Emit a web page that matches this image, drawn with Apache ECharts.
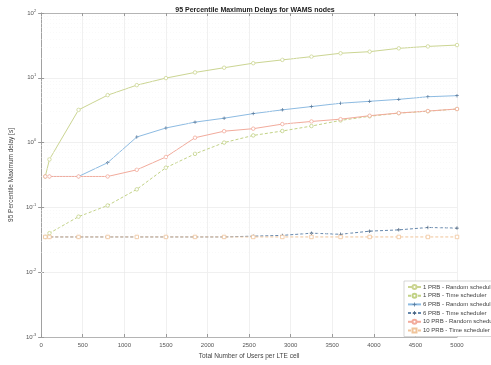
<!DOCTYPE html>
<html>
<head>
<meta charset="utf-8">
<script src="https://cdn.jsdelivr.net/npm/echarts@6/dist/echarts.min.js"></script>
<style>
  html, body { margin: 0; padding: 0; background: #fff; }
  #chart { width: 491px; height: 365px; }
</style>
</head>
<body>
<div id="chart"></div>
<script>
// users per LTE cell (x positions of the markers)
var users = [50, 100, 450, 800, 1150, 1500, 1850, 2200, 2550, 2900, 3250, 3600, 3950, 4300, 4650, 5000];

// 95 percentile max delay [s]
var prb1Random = [0.3, 0.55, 3.2, 5.4, 7.7, 9.9, 12.1, 14.3, 16.8, 18.9, 21.2, 23.9, 25.3, 28.5, 30.5, 32];
var prb1Time = [0.035, 0.04, 0.072, 0.107, 0.19, 0.41, 0.67, 1.0, 1.29, 1.51, 1.8, 2.2, 2.55, 2.85, 3.05, 3.3];
var prb6Random = [0.3, 0.3, 0.3, 0.49, 1.22, 1.68, 2.07, 2.38, 2.8, 3.2, 3.6, 4.05, 4.34, 4.65, 5.1, 5.3];
var prb6Time = [0.035, 0.035, 0.035, 0.035, 0.035, 0.035, 0.035, 0.035, 0.036, 0.037, 0.04, 0.0385, 0.043, 0.045, 0.049, 0.048];
var prb10Random = [0.3, 0.3, 0.3, 0.3, 0.38, 0.6, 1.19, 1.5, 1.64, 1.93, 2.12, 2.3, 2.6, 2.86, 3.07, 3.3];
var prb10Time = [0.035, 0.035, 0.035, 0.035, 0.035, 0.035, 0.035, 0.035, 0.035, 0.035, 0.035, 0.035, 0.035, 0.035, 0.035, 0.035];

var xTicks = [0, 500, 1000, 1500, 2000, 2500, 3000, 3500, 4000, 4500, 5000];
var decades = [-3, -2, -1, 0, 1, 2];

var plus = 'path://M4,0h2v4h4v2h-4v4h-2v-4h-4v-2h4z';

function pairs(vals) {
  return users.map(function (u, i) { return [u, vals[i]]; });
}

// minor log gridlines 2..9 x 10^k
var minorLines = [];
decades.slice(0, -1).forEach(function (e) {
  for (var m = 2; m <= 9; m++) minorLines.push({ yAxis: m * Math.pow(10, e) });
});

function line(name, vals, color, dashed, symbol) {
  return {
    name: name,
    type: 'line',
    data: pairs(vals),
    symbol: symbol,
    symbolSize: 3.5,
    showSymbol: true,
    lineStyle: { color: color, width: 1, type: dashed ? [3, 2] : 'solid' },
    itemStyle: { color: '#fff', borderColor: color, borderWidth: 0.8 },
    emphasis: { disabled: true },
    animation: false
  };
}

var chart = echarts.init(document.getElementById('chart'), null, { renderer: 'canvas' });

var series = [
  line('1 PRB - Random scheduler', prb1Random, '#cbd592', false, 'circle'),
  line('1 PRB - Time scheduler', prb1Time, '#c2d286', true, 'circle'),
  line('6 PRB - Random scheduler', prb6Random, '#8dbbe2', false, plus),
  line('6 PRB - Time scheduler', prb6Time, '#6688ad', true, plus),
  line('10 PRB - Random scheduler', prb10Random, '#f2ab9c', false, 'circle'),
  line('10 PRB - Time scheduler', prb10Time, '#f0c49a', true, 'rect')
];
series[2].itemStyle = { color: '#56789a' };
series[3].itemStyle = { color: '#475f7a' };

// dummy series carrying the minor grid
series.push({
  type: 'line',
  data: [],
  silent: true,
  markLine: {
    silent: true,
    symbol: 'none',
    label: { show: false },
    lineStyle: { color: '#f0f0f0', width: 0.5, type: [1, 2] },
    data: minorLines,
    animation: false
  }
});

chart.setOption({
  backgroundColor: '#fff',
  textStyle: { fontFamily: 'Liberation Sans' },
  title: {
    text: '95 Percentile Maximum Delays for WAMS nodes',
    left: 250,
    textAlign: 'center',
    top: 2,
    textStyle: { fontSize: 7, fontWeight: 'bold', color: '#222' }
  },
  grid: { left: 41, right: 34, top: 13, bottom: 25, containLabel: false },
  legend: {
    orient: 'vertical',
    left: 404,
    top: 281,
    itemWidth: 13,
    itemHeight: 5,
    itemGap: 2.7,
    padding: [3, 4, 3, 3],
    backgroundColor: '#fff',
    borderColor: '#bdbdbd',
    borderWidth: 0.6,
    textStyle: { fontSize: 6, color: '#444', padding: [0, 0, 0, -3] },
    data: series.slice(0, 6).map(function (s) { return s.name; })
  },
  xAxis: [{
    type: 'value',
    min: 0,
    max: 5000,
    interval: 500,
    name: 'Total Number of Users per LTE cell',
    nameLocation: 'middle',
    nameGap: 16,
    nameTextStyle: { fontSize: 6.5, color: '#444' },
    axisLine: { lineStyle: { color: '#9a9a9a', width: 0.7 } },
    axisTick: { inside: true, length: 3, lineStyle: { color: '#9a9a9a' } },
    axisLabel: { fontSize: 6, color: '#555', margin: 5,
      formatter: function (v) { return xTicks.indexOf(v) >= 0 ? String(v) : ''; } },
    splitLine: { show: true, lineStyle: { color: '#e6e6e6', width: 0.6 } }
  }, {
    type: 'value',
    position: 'top',
    min: 0,
    max: 5000,
    interval: 500,
    axisLine: { lineStyle: { color: '#9a9a9a', width: 0.7 } },
    axisTick: { inside: true, length: 3, lineStyle: { color: '#9a9a9a' } },
    axisLabel: { show: false },
    splitLine: { show: false }
  }],
  yAxis: [{
    type: 'log',
    logBase: 10,
    min: 0.001,
    max: 100,
    name: '95 Percentile Maximum delay [s]',
    nameLocation: 'middle',
    nameGap: 24,
    nameTextStyle: { fontSize: 6.5, color: '#444' },
    axisLine: { show: true, lineStyle: { color: '#9a9a9a', width: 0.7 } },
    axisTick: { inside: true, length: 3, lineStyle: { color: '#9a9a9a' } },
    axisLabel: {
      margin: 5,
      formatter: function (v) {
        var e = Math.round(Math.log10(v));
        return '{b|10}{s|' + e + '}';
      },
      rich: {
        b: { fontSize: 6, color: '#555' },
        s: { fontSize: 4, color: '#555', verticalAlign: 'top', padding: [0, 0, 5, 0] }
      }
    },
    splitLine: { show: true, lineStyle: { color: '#e6e6e6', width: 0.6 } }
  }, {
    type: 'log',
    logBase: 10,
    min: 0.001,
    max: 100,
    position: 'right',
    axisLine: { show: true, lineStyle: { color: '#9a9a9a', width: 0.7 } },
    axisTick: { show: true, inside: true, length: 3, lineStyle: { color: '#9a9a9a' } },
    axisLabel: { show: false },
    splitLine: { show: false }
  }],
  series: series
});
</script>
</body>
</html>
